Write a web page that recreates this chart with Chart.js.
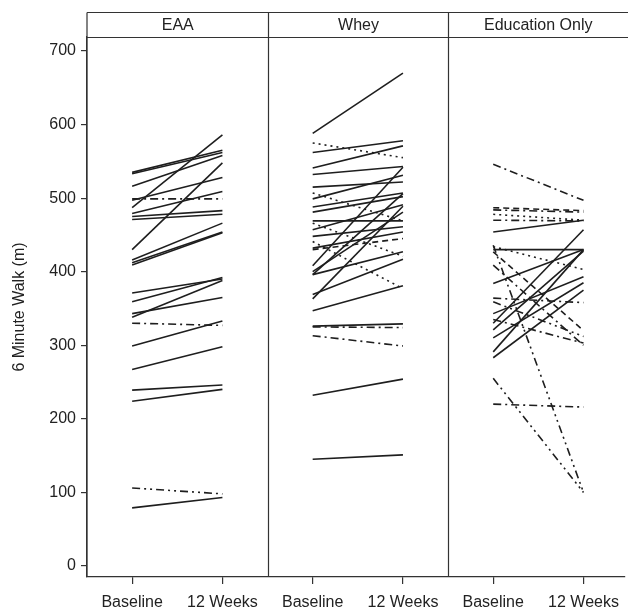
<!DOCTYPE html>
<html>
<head>
<meta charset="utf-8">
<script src="https://cdn.jsdelivr.net/npm/chart.js@4/dist/chart.umd.min.js"></script>
<style>
html,body{margin:0;padding:0;background:#fff;}
#wrap{width:628px;height:610px;position:relative;}
</style>
</head>
<body>
<div id="wrap"><canvas id="c" width="628" height="610"></canvas></div>
<script>
// ---- data ----
const groups = ["EAA", "Whey", "Education Only"];
const timeLabels = ["Baseline", "12 Weeks"];
const yTickValues = [0, 100, 200, 300, 400, 500, 600, 700];
const yTitle = "6 Minute Walk (m)";

const eaaBaseline = [535, 533, 516, 487, 497, 499, 479, 475, 471, 430, 416, 412, 409, 371, 359, 343, 338, 330, 299, 267, 239, 224, 106, 79];
const eaaWeek12   = [565, 562, 558, 586, 528, 499, 509, 483, 478, 548, 466, 454, 453, 390, 392, 365, 388, 327, 333, 298, 246, 240, 98, 93];
const eaaPattern  = ["solid","solid","solid","solid","solid","dashdot","solid","solid","solid","solid","solid","solid","solid","solid","solid","solid","solid","dashdot","solid","solid","solid","solid","dashdotdot","solid"];

const wheyBaseline = [588, 575, 562, 541, 532, 515, 507, 499, 488, 481, 469, 466, 457, 448, 441, 432, 430, 408, 400, 396, 396, 369, 363, 347, 326, 325, 313, 232, 145];
const wheyWeek12   = [670, 555, 578, 571, 543, 522, 469, 531, 507, 502, 469, 421, 491, 461, 377, 454, 445, 542, 481, 506, 427, 417, 489, 381, 329, 324, 299, 254, 151];
const wheyPattern  = ["solid","dotted","solid","solid","solid","solid","dotted","solid","solid","solid","solid","dotted","solid","solid","dotted","solid","dashed","solid","solid","solid","solid","solid","solid","solid","solid","dashdot","dashdot","solid","solid"];

const eduBaseline = [546, 487, 484, 478, 470, 454, 436, 434, 430, 427, 409, 384, 364, 359, 343, 330, 321, 310, 291, 283, 255, 220, 335];
const eduWeek12   = [497, 483, 481, 470, 469, 470, 100, 403, 430, 320, 300, 430, 358, 312, 393, 457, 428, 385, 430, 375, 100, 216, 303];
const eduPattern  = ["dashdot","dashed","dashdot","dotted","dashdot","solid","dashdotdot","dotted","solid","dashed","dashdot","solid","dashdot","dashdotdot","solid","solid","solid","solid","solid","solid","dashdotdot","dashdot","dashdot"];

// ---- build ----
const FONT = "'Liberation Sans', Arial, Helvetica, sans-serif";
const INK = '#1e1e1e';
function dashFor(p){
  switch(p){
    case 'dotted': return [2,4];
    case 'dashed': return [6,4];
    case 'dashdot': return [8,4,2,4];
    case 'dashdotdot': return [8,4,2,4,2,4];
    default: return [];
  }
}
function buildSets(g, base, wk, pat){
  return base.map((b,i)=>({
    data:[{x:g*2, y:b},{x:g*2+1, y:wk[i]}],
    showLine:true, borderColor:INK, backgroundColor:INK, borderWidth:1.6,
    borderDash:dashFor(pat[i]), pointRadius:0, pointHoverRadius:0, fill:false, tension:0
  }));
}
const datasets = [].concat(
  buildSets(0, eaaBaseline, eaaWeek12, eaaPattern),
  buildSets(1, wheyBaseline, wheyWeek12, wheyPattern),
  buildSets(2, eduBaseline, eduWeek12, eduPattern)
);

const frameTop = 12.5, headerBottom = 37.5;
const panelPlugin = {
  id:'panels',
  afterDraw(chart){
    const ctx = chart.ctx, xs = chart.scales.x, ca = chart.chartArea;
    const W = chart.width;
    ctx.save();
    ctx.strokeStyle = '#333'; ctx.lineWidth = 1.2;
    ctx.beginPath();
    ctx.moveTo(ca.left, frameTop); ctx.lineTo(W, frameTop);
    ctx.moveTo(ca.left, headerBottom); ctx.lineTo(W, headerBottom);
    ctx.moveTo(ca.left, frameTop); ctx.lineTo(ca.left, ca.bottom);
    const edges = [ca.left];
    for (let g=1; g<groups.length; g++){
      const px = Math.round(xs.getPixelForValue(g*2-0.5))+0.5;
      edges.push(px);
      ctx.moveTo(px, frameTop); ctx.lineTo(px, ca.bottom);
    }
    edges.push(W);
    ctx.stroke();
    ctx.fillStyle = '#222';
    ctx.font = '16px ' + FONT;
    ctx.textAlign = 'center'; ctx.textBaseline = 'middle';
    groups.forEach((name,g)=>{
      ctx.fillText(name, (edges[g]+edges[g+1])/2, (frameTop+headerBottom)/2+1);
    });
    ctx.restore();
  }
};

new Chart(document.getElementById('c'), {
  type:'scatter',
  data:{datasets},
  options:{
    responsive:false, animation:false, events:[],
    layout:{padding:{top:37, left:0, right:1, bottom:0}},
    plugins:{legend:{display:false}, tooltip:{enabled:false}},
    scales:{
      x:{
        type:'linear', min:-0.5, max:5.45,
        afterBuildTicks(s){ s.ticks = [0,1,2,3,4,5].map(v=>({value:v})); },
        afterFit(s){ s.height = 33; },
        ticks:{ callback:(v)=>timeLabels[Math.round(v)%2], color:'#222', font:{family:FONT, size:16}, padding:9, maxRotation:0, autoSkip:false },
        grid:{ drawOnChartArea:false, drawTicks:true, tickLength:7, color:'#333', lineWidth:1.2 },
        border:{ display:true, color:'#333', width:1.2 }
      },
      y:{
        type:'linear', min:-15, max:719,
        afterBuildTicks(s){ s.ticks = yTickValues.map(v=>({value:v})); },
        afterFit(s){ s.width = 87; },
        ticks:{ color:'#222', font:{family:FONT, size:16}, padding:5 },
        grid:{ drawOnChartArea:false, drawTicks:true, tickLength:6, color:'#333', lineWidth:1.2 },
        border:{ display:true, color:'#333', width:1.2 },
        title:{ display:true, text:yTitle, color:'#222', font:{family:FONT, size:16}, padding:{top:10, bottom:0} }
      }
    }
  },
  plugins:[panelPlugin]
});
</script>
</body>
</html>
